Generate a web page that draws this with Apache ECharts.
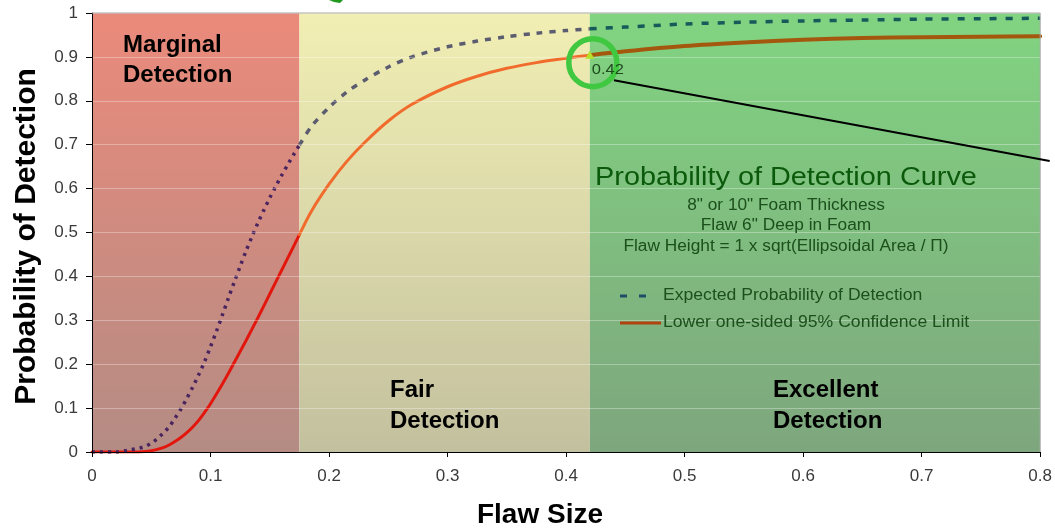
<!DOCTYPE html>
<html>
<head>
<meta charset="utf-8">
<script src="https://cdn.jsdelivr.net/npm/echarts@6/dist/echarts.min.js"></script>
<style>html,body{margin:0;padding:0;background:#fff}#c{width:1055px;height:531px}</style>
</head>
<body>
<div id="c"></div>
<script>
// ---- data ----
const flawSize = [0, 0.02, 0.03, 0.04, 0.045, 0.05, 0.055, 0.06, 0.065, 0.07, 0.075, 0.08, 0.085, 0.09, 0.095,
  0.1, 0.105, 0.11, 0.115, 0.12, 0.125, 0.13, 0.135, 0.14, 0.145, 0.15, 0.155, 0.16, 0.165, 0.17, 0.175,
  0.185, 0.2, 0.215, 0.23, 0.25, 0.27, 0.3, 0.325, 0.35, 0.375, 0.4, 0.42,
  0.45, 0.5, 0.55, 0.6, 0.65, 0.7, 0.75, 0.8];
const expectedPOD = [0, 0, 0.004, 0.009, 0.013, 0.02, 0.03, 0.043, 0.057, 0.077, 0.098, 0.122, 0.148, 0.176, 0.206,
  0.24, 0.275, 0.312, 0.35, 0.387, 0.423, 0.458, 0.491, 0.522, 0.551, 0.579, 0.605, 0.63, 0.654, 0.677, 0.699,
  0.741, 0.785, 0.82, 0.847, 0.877, 0.9, 0.923, 0.936, 0.946, 0.954, 0.96, 0.964,
  0.968, 0.975, 0.979, 0.982, 0.984, 0.986, 0.987, 0.988];
const lowerCL = [0, 0, 0, 0, 0.001, 0.003, 0.006, 0.01, 0.016, 0.024, 0.033, 0.044, 0.057, 0.072, 0.09,
  0.11, 0.132, 0.155, 0.179, 0.204, 0.229, 0.254, 0.28, 0.306, 0.333, 0.36, 0.387, 0.414, 0.441, 0.468, 0.495,
  0.548, 0.61, 0.662, 0.705, 0.754, 0.792, 0.832, 0.856, 0.874, 0.887, 0.897, 0.904,
  0.913, 0.925, 0.933, 0.939, 0.943, 0.945, 0.946, 0.947];

const zoneStart = [0, 0.175, 0.42];
const zoneEnd = [0.175, 0.42, 0.8];
const zoneLabels = ['Marginal\nDetection', 'Fair\nDetection', 'Excellent\nDetection'];

const seriesNames = ['Expected Probability of Detection', 'Lower one-sided 95% Confidence Limit'];
const chartTitle = 'Probability of Detection Curve';
const chartSubtitle = ['8" or 10" Foam Thickness', 'Flaw 6" Deep in Foam', 'Flaw Height = 1 x sqrt(Ellipsoidal Area / \u03A0)'];
const xAxisTitle = 'Flaw Size';
const yAxisTitle = 'Probability of Detection';

const annotPoint = [0.42, 0.905];
const annotText = '0.42';
const calloutFrom = [0.4404, 0.847];
const calloutTo = [0.808, 0.663];

// ---- styles ----
const zoneFill = [
  ['#eb8a7b', '#b48c84'],
  ['#f1efb3', '#c3c09f'],
  ['#81d481', '#7ea67e']
];
const dashColor = ['#4a245f', '#5c5c70', '#18595a'];
const dashPattern = [[3, 5], [6, 7], [7, 9]];
const solidColor = ['#e3160e', '#f06b2c', '#a3580e'];
const solidWidth = [3, 3, 4];

function segment(values, z) {
  const out = [];
  for (let i = 0; i < flawSize.length; i++) {
    const x = flawSize[i];
    if (x >= zoneStart[z] - 1e-9 && x <= zoneEnd[z] + 1e-9) out.push([x, values[i]]);
  }
  return out;
}

const series = [];
for (let z = 0; z < 3; z++) {
  series.push({
    type: 'line', name: seriesNames[1] + ' ' + z, data: segment(lowerCL, z),
    showSymbol: false, smooth: 0.3, z: 2, silent: true,
    lineStyle: { color: solidColor[z], width: solidWidth[z], cap: 'round' }
  });
  series.push({
    type: 'line', name: seriesNames[0] + ' ' + z, data: segment(expectedPOD, z),
    showSymbol: false, smooth: 0.3, z: 2, silent: true,
    lineStyle: { color: dashColor[z], width: 3.5, type: dashPattern[z] }
  });
}
// zone backgrounds
series[0].markArea = {
  silent: true,
  data: zoneStart.map((s, i) => [
    { xAxis: s, yAxis: 0, itemStyle: { color: { type: 'linear', x: 0, y: 0, x2: 0, y2: 1,
      colorStops: [{ offset: 0, color: zoneFill[i][0] }, { offset: 1, color: zoneFill[i][1] }] } } },
    { xAxis: zoneEnd[i], yAxis: 1 }
  ])
};
// annotation circle + marker
series[4].markPoint = {
  silent: true, z: 6,
  data: [
    { coord: annotPoint, symbol: 'circle', symbolSize: 48, symbolOffset: [3, 8],
      itemStyle: { color: 'rgba(0,0,0,0)', borderColor: '#40c840', borderWidth: 5.5 }, label: { show: false } },
    { coord: annotPoint, symbol: 'triangle', symbolSize: [9, 8],
      itemStyle: { color: '#b6e02a' }, label: { show: false } }
  ]
};

const chart = echarts.init(document.getElementById('c'), null, { renderer: 'canvas' });
const labelFont = { fontFamily: 'Liberation Sans', fontSize: 17, color: '#3a3a3a' };
chart.setOption({
  animation: false,
  backgroundColor: '#ffffff',
  grid: { left: 92, right: 7, top: 13, bottom: 79, show: false },
  xAxis: {
    type: 'value', min: 0, max: 0.8, interval: 0.1, z: 3,
    axisLine: { show: true, onZero: false, lineStyle: { color: '#000', width: 1 } },
    axisTick: { show: true, length: 5, lineStyle: { color: '#000' } },
    axisLabel: Object.assign({ margin: 16, formatter: v => String(+v.toFixed(1)) }, labelFont),
    splitLine: { show: false }
  },
  yAxis: {
    type: 'value', min: 0, max: 1, interval: 0.1, z: 3,
    axisLine: { show: true, lineStyle: { color: '#000', width: 1 } },
    axisTick: { show: true, length: 6, lineStyle: { color: '#000' } },
    axisLabel: Object.assign({ margin: 14, formatter: v => String(+v.toFixed(1)) }, labelFont),
    splitLine: { show: true, lineStyle: { color: 'rgba(255,255,255,0.32)', width: 1 } }
  },
  series: series
});

// ---- annotations (placed through the chart's own scales) ----
const px = p => chart.convertToPixel({ gridIndex: 0 }, p);
const tl = px([0, 1]), br = px([0.8, 0]);
const pA = px(annotPoint);
const c1 = px(calloutFrom), c2 = px(calloutTo);
const stretched = (x, y, text, size, fill, align, vAlign, sx, extra) => ({
  type: 'text', x: x, y: y, scaleX: sx || 1, z: 100, silent: true,
  style: Object.assign({ text: text, fontFamily: 'Liberation Sans', fontSize: size, fill: fill,
    align: align, verticalAlign: vAlign, textAlign: align, textVerticalAlign: vAlign }, extra || {})
});

const graphics = [
  { type: 'polyline', z: 99, silent: true, shape: { points: [[tl[0], tl[1]], [br[0], tl[1]], [br[0], br[1]]] },
    style: { stroke: '#a9a9a9', lineWidth: 1, fill: null } },
  { type: 'line', z: 101, silent: true, shape: { x1: c1[0], y1: c1[1], x2: c2[0], y2: c2[1] },
    style: { stroke: '#000', lineWidth: 2 } },
  { type: 'polygon', z: 101, silent: true, shape: { points: [[329, 0], [343, 0], [340, 3], [334, 2]] },
    style: { fill: '#1f9a1f' } },
  stretched(pA[0] + 2, pA[1] + 15, annotText, 15, '#1d4a1d', 'left', 'middle', 1.1),
  // zone labels
  stretched(123, 30, zoneLabels[0], 24, '#000', 'left', 'top', 1, { fontWeight: 'bold', lineHeight: 30 }),
  stretched(390, 375, zoneLabels[1], 24, '#000', 'left', 'top', 1, { fontWeight: 'bold', lineHeight: 31 }),
  stretched(773, 375, zoneLabels[2], 24, '#000', 'left', 'top', 1, { fontWeight: 'bold', lineHeight: 31 }),
  // title block
  stretched(786, 178, chartTitle, 26, '#0b5a0b', 'center', 'middle', 1.11),
  stretched(786, 195, chartSubtitle.join('\n'), 16, '#1b4f1b', 'center', 'top', 1.08, { lineHeight: 20.5 }),
  // legend
  { type: 'line', z: 101, silent: true, shape: { x1: 620, y1: 296, x2: 651, y2: 296 },
    style: { stroke: '#1f4f66', lineWidth: 3, lineDash: [7, 12] } },
  stretched(663, 296, seriesNames[0], 16, '#1b4f1b', 'left', 'middle', 1.1),
  { type: 'line', z: 101, silent: true, shape: { x1: 620, y1: 323, x2: 661, y2: 323 },
    style: { stroke: '#b0420f', lineWidth: 3 } },
  stretched(663, 323, seriesNames[1], 16, '#1b4f1b', 'left', 'middle', 1.1),
  // axis titles
  { type: 'text', x: 27, y: (tl[1] + br[1]) / 2 + 4, rotation: Math.PI / 2, z: 100, silent: true,
    style: { text: yAxisTitle, fontFamily: 'Liberation Sans', fontSize: 30, fontWeight: 'bold', fill: '#000',
      align: 'center', verticalAlign: 'middle', textAlign: 'center', textVerticalAlign: 'middle' } },
  stretched(540, 515, xAxisTitle, 28, '#000', 'center', 'middle', 1, { fontWeight: 'bold' })
];
chart.setOption({ graphic: { elements: graphics } });
</script>
</body>
</html>
